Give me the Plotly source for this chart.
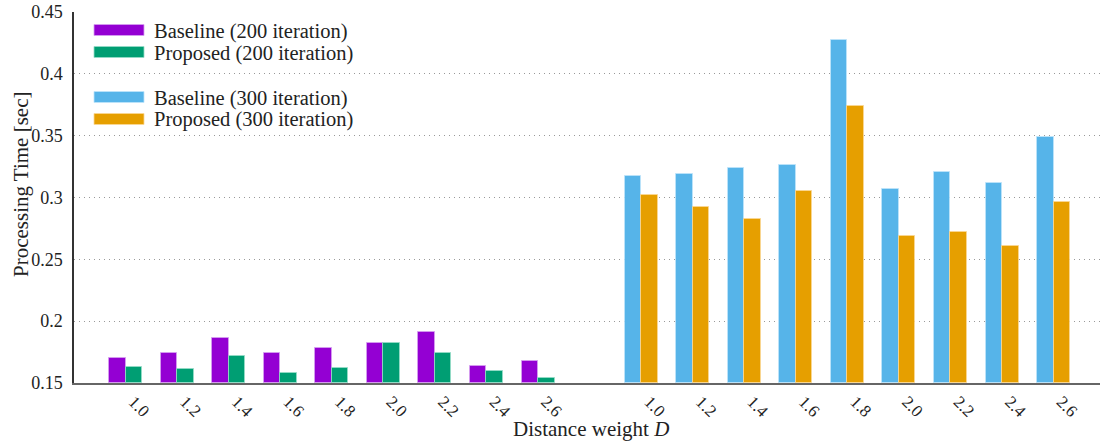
import plotly.graph_objects as go

# ---- data ----
weights = ["1.0", "1.2", "1.4", "1.6", "1.8", "2.0", "2.2", "2.4", "2.6"]
baseline_200 = [0.170, 0.174, 0.186, 0.174, 0.178, 0.182, 0.191, 0.164, 0.168]
proposed_200 = [0.163, 0.161, 0.172, 0.158, 0.162, 0.182, 0.174, 0.160, 0.154]
baseline_300 = [0.317, 0.319, 0.324, 0.326, 0.427, 0.307, 0.321, 0.312, 0.349]
proposed_300 = [0.302, 0.292, 0.283, 0.305, 0.374, 0.269, 0.272, 0.261, 0.296]
series_names = ["Baseline (200 iteration)", "Proposed (200 iteration)",
                "Baseline (300 iteration)", "Proposed (300 iteration)"]
y_ticks = [0.15, 0.2, 0.25, 0.3, 0.35, 0.4, 0.45]
y_tick_text = ["0.15", "0.2", "0.25", "0.3", "0.35", "0.4", "0.45"]
x_title = "Distance weight <i>D</i>"
y_title = "Processing Time [sec]"

colors = ["#9400D3", "#009E73", "#56B4E9", "#E69F00"]
edge = ["rgba(214,160,240,0.8)", "rgba(150,220,200,0.8)",
        "rgba(190,228,250,0.8)", "rgba(250,215,150,0.8)"]

n = len(weights)
pos_200 = list(range(n))
pos_300 = [i + n + 1 for i in range(n)]
BW = 0.32

FONT = "Liberation Serif, Times New Roman, serif"

fig = go.Figure()
groups = [(pos_200, baseline_200, -BW, 0), (pos_200, proposed_200, 0, 1),
          (pos_300, baseline_300, -BW, 2), (pos_300, proposed_300, 0, 3)]
for xs, ys, off, k in groups:
    fig.add_trace(go.Bar(
        x=xs, y=[v - 0.15 for v in ys], base=0.15, name=series_names[k],
        offset=off, width=BW,
        marker=dict(color=colors[k], line=dict(color=edge[k], width=1)),
        showlegend=False,
    ))

# ---- manual legend (wide swatches, gap between the two groups) ----
L, R, T, B = 74, 1100, 12, 383
def px(x):
    return (x - L) / (R - L)
def py(y):
    return (B - y) / (B - T)

legend_rows = [30, 52, 97, 119]
for k, yc in enumerate(legend_rows):
    fig.add_shape(type="rect", xref="paper", yref="paper",
                  x0=px(94), x1=px(144), y0=py(yc + 5.5), y1=py(yc - 5.5),
                  fillcolor=colors[k], line=dict(color=edge[k], width=1))
    fig.add_annotation(xref="paper", yref="paper", x=px(152), y=py(yc + 1),
                       text=series_names[k], showarrow=False,
                       xanchor="left", yanchor="middle",
                       font=dict(family=FONT, size=20.5, color="#222"))

# axis titles
fig.add_annotation(xref="paper", yref="paper", x=px(591), y=py(429),
                   text=x_title, showarrow=False, xanchor="center", yanchor="middle",
                   font=dict(family=FONT, size=21, color="#222"))
fig.add_annotation(xref="paper", yref="paper", x=px(21), y=py(184),
                   text=y_title, showarrow=False, textangle=-90,
                   xanchor="center", yanchor="middle",
                   font=dict(family=FONT, size=21, color="#222"))

fig.update_layout(
    width=1102, height=443,
    margin=dict(l=L, r=1102 - R, t=T, b=443 - B),
    plot_bgcolor="white", paper_bgcolor="white",
    font=dict(family=FONT, color="#222"),
    bargap=0,
    xaxis=dict(
        range=[-1.0, 18.9],
        tickvals=pos_200 + pos_300,
        ticktext=weights + weights,
        tickangle=45,
        tickfont=dict(family=FONT, size=17, color="#222"),
        showgrid=False, zeroline=False,
        showline=True, linecolor="#666", linewidth=2,
        ticks="",
        ticklabelshift=8,
        ticklabelstandoff=0,
    ),
    yaxis=dict(
        range=[0.15, 0.45],
        tickvals=y_ticks, ticktext=y_tick_text,
        tickfont=dict(family=FONT, size=18, color="#222"),
        showgrid=True, gridcolor="#999999", griddash="1px,4px", gridwidth=1,
        zeroline=False,
        showline=True, linecolor="#333", linewidth=1.5,
        ticks="outside", ticklen=6, tickcolor="rgba(0,0,0,0)",
    ),
)

fig.write_html("out.html", config={"displayModeBar": False},
               post_script="document.body.style.margin='0px';")
